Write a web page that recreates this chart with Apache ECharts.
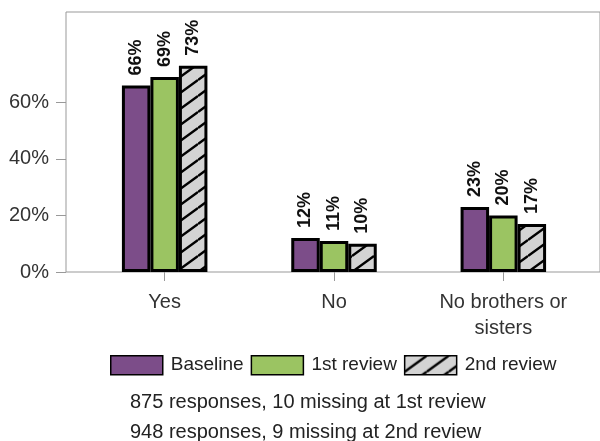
<!DOCTYPE html>
<html>
<head>
<meta charset="utf-8">
<script src="https://cdn.jsdelivr.net/npm/echarts@6/dist/echarts.min.js"></script>
<style>
  html, body { margin: 0; padding: 0; background: #fff; }
  #chart { width: 600px; height: 441px; }
</style>
</head>
<body>
<div id="chart"></div>
<script>
// data
const categories = ['Yes', 'No', 'No brothers or\nsisters'];
const baseline = [66, 12, 23];
const review1 = [69, 11, 20];
const review2 = [73, 10, 17];
const yTicks = [0, 20, 40, 60];
const notes = ['875 responses, 10 missing at 1st review', '948 responses, 9 missing at 2nd review'];

// grey fill with black "/" hatch
function hatch() {
  const w = 22, h = 16;
  const c = document.createElement('canvas');
  c.width = w; c.height = h;
  const g = c.getContext('2d');
  g.fillStyle = '#d3d3d3';
  g.fillRect(0, 0, w, h);
  g.strokeStyle = '#000';
  g.lineWidth = 2.4;
  g.beginPath();
  for (const dy of [-h, 0, h]) {
    g.moveTo(0, h + dy);
    g.lineTo(w, dy);
  }
  g.stroke();
  return { image: c, repeat: 'repeat' };
}

const FONT = '"Liberation Sans", Arial, sans-serif';
const barLabel = {
  show: true,
  position: 'top',
  rotate: 90,
  align: 'left',
  verticalAlign: 'middle',
  distance: 10,
  formatter: '{c}%',
  fontFamily: FONT,
  fontWeight: 'bold',
  fontSize: 18,
  color: '#111'
};

function barSeries(name, data, fill) {
  return {
    name: name,
    type: 'bar',
    data: data,
    barWidth: 28.5,
    barGap: '0%',
    itemStyle: { color: fill, borderColor: '#000', borderWidth: 3 },
    label: barLabel
  };
}

const chart = echarts.init(document.getElementById('chart'), null, { renderer: 'canvas' });
chart.setOption({
  animation: false,
  textStyle: { fontFamily: FONT },
  title: {
    text: notes.join('\n'),
    left: 130,
    top: 387,
    padding: 0,
    textStyle: { fontFamily: FONT, fontSize: 20, fontWeight: 'normal', color: '#222', lineHeight: 30 }
  },
  legend: {
    left: 110,
    top: 355,
    padding: 0,
    itemWidth: 52,
    itemHeight: 19,
    itemGap: 7,
    icon: 'rect',
    textStyle: { fontFamily: FONT, fontSize: 19, color: '#222', padding: [0, 0, 0, 3] },
    itemStyle: { borderColor: '#000', borderWidth: 1.5 },
    data: ['Baseline', '1st review', '2nd review']
  },
  grid: [
    { left: 80, top: 12, width: 508, height: 260, containLabel: false },
    { left: 66, top: 12, width: 600, height: 260, show: true, borderColor: '#999', borderWidth: 1, backgroundColor: 'transparent' }
  ],
  xAxis: [
    {
      type: 'category',
      data: categories,
      axisLine: { show: false },
      axisTick: { show: true, alignWithLabel: true, length: 9, lineStyle: { color: '#999' } },
      axisLabel: { fontFamily: FONT, fontSize: 20, color: '#333', margin: 17, lineHeight: 26 }
    },
    { gridIndex: 1, type: 'value', show: false }
  ],
  yAxis: [
    {
      type: 'value',
      min: 0,
      max: 92,
      interval: 20,
      offset: 14,
      splitLine: { show: false },
      axisLine: { show: false },
      axisTick: { show: true, length: 10, customValues: yTicks, lineStyle: { color: '#999' } },
      axisLabel: { fontFamily: FONT, fontSize: 20, color: '#333', margin: 17, customValues: yTicks, formatter: '{value}%' }
    },
    { gridIndex: 1, type: 'value', show: false }
  ],
  series: [
    barSeries('Baseline', baseline, '#7c4d89'),
    barSeries('1st review', review1, '#9bc462'),
    barSeries('2nd review', review2, hatch())
  ]
});
</script>
</body>
</html>
